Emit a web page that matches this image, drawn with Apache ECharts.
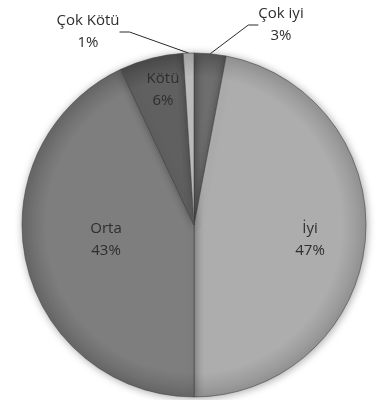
<!DOCTYPE html>
<html>
<head>
<meta charset="utf-8">
<script src="https://cdn.jsdelivr.net/npm/echarts@6/dist/echarts.min.js"></script>
<style>
  html, body { margin: 0; padding: 0; background: #ffffff; }
  #chart { width: 376px; height: 400px; }
</style>
</head>
<body>
<div id="chart"></div>
<script>
// Survey answers and their shares (%)
var categories = ['Çok iyi', 'İyi', 'Orta', 'Kötü', 'Çok Kötü'];
var shares = [3, 47, 43, 6, 1];

// Grey shades per answer: [centre, rim]
var shades = [
  ['#6e6e6e', '#555555'],
  ['#adadad', '#939393'],
  ['#7e7e7e', '#676767'],
  ['#606060', '#4a4a4a'],
  ['#c0c0c0', '#a4a4a4']
];

var CX = 194, CY = 225, R = 172;

function fill(i) {
  return {
    type: 'radial', x: CX, y: CY, r: R, global: true,
    colorStops: [
      { offset: 0, color: shades[i][0] },
      { offset: 0.86, color: shades[i][0] },
      { offset: 1, color: shades[i][1] }
    ]
  };
}

var outsideSpots = {
  'Çok iyi': [281, 25],
  'Çok Kötü': [88, 32]
};

var data = categories.map(function (name, i) {
  var item = { name: name, value: shares[i], itemStyle: { color: fill(i) } };
  if (outsideSpots[name]) {
    item.label = { position: 'outside' };
    item.labelLine = { show: true };
  } else {
    item.label = { position: 'inside' };
    item.labelLine = { show: false };
  }
  return item;
});

var chart = echarts.init(document.getElementById('chart'), null, { renderer: 'canvas' });
chart.setOption({
  animation: false,
  series: [{
    type: 'pie',
    center: [CX, CY],
    radius: [0, R],
    startAngle: 90,
    clockwise: true,
    avoidLabelOverlap: false,
    data: data,
    itemStyle: {
      borderColor: '#454545',
      borderWidth: 0.6,
      shadowBlur: 8,
      shadowColor: 'rgba(0,0,0,0.35)',
      shadowOffsetX: 1,
      shadowOffsetY: 1
    },
    label: {
      formatter: '{b}\n{d}%',
      fontFamily: 'Open Sans',
      fontSize: 15,
      lineHeight: 22,
      color: '#2e2e2e',
      align: 'center'
    },
    labelLine: {
      lineStyle: { color: '#2a2a2a', width: 1 },
      length: 10,
      length2: 10
    },
    labelLayout: function (params) {
      var name = categories[params.dataIndex];
      if (outsideSpots[name]) {
        return { x: outsideSpots[name][0], y: outsideSpots[name][1], align: 'center', verticalAlign: 'middle' };
      }
      if (name === 'İyi') {
        return { x: 310, y: 240, align: 'center', verticalAlign: 'middle' };
      }
      if (name === 'Orta') {
        return { x: 106, y: 240, align: 'center', verticalAlign: 'middle' };
      }
      if (name === 'Kötü') {
        return { x: 163, y: 90, align: 'center', verticalAlign: 'middle' };
      }
      return {};
    }
  }]
});
</script>
</body>
</html>
